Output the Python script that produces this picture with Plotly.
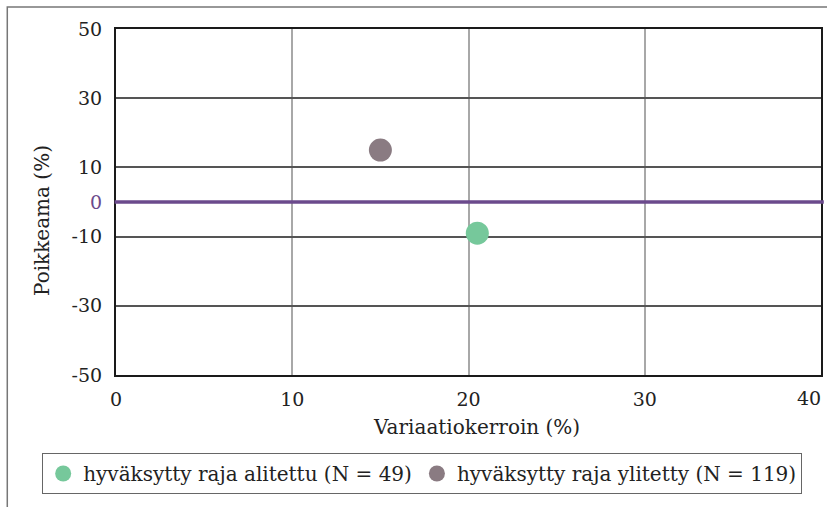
import plotly.graph_objects as go

# data
series_names = ["hyväksytty raja alitettu (N = 49)", "hyväksytty raja ylitetty (N = 119)"]
series_x = [[20.5], [15]]
series_y = [[-9], [15]]
series_colors = ["#76c89b", "#8a7b82"]

x_ticks = [0, 10, 20, 30, 40]
x_labels = ["0", "10", "20", "30", "40"]
y_ticks = [-50, -30, -10, 0, 10, 30, 50]
y_labels = ["-50", "-30", "-10", "<span style='color:#6b4a8c'>0</span>", "10", "30", "50"]

tick_font = dict(family="DejaVu Serif", size=19, color="#222")
font = dict(family="DejaVu Serif", size=20, color="#222")

fig = go.Figure()

for name, xs, ys, col in zip(series_names, series_x, series_y, series_colors):
    fig.add_trace(
        go.Scatter(
            x=xs, y=ys, mode="markers", name=name,
            marker=dict(size=23, color=col, line=dict(width=0)),
        )
    )

# zero line
fig.add_shape(type="line", xref="paper", yref="y", x0=-0.002, x1=1.004, y0=0, y1=0,
              line=dict(color="#6b4a8c", width=3.5), layer="above")

# outer frame
fig.add_shape(type="rect", xref="paper", yref="paper", x0=-0.1542, x1=1.2, y0=-0.5, y1=1.0636,
              line=dict(color="#777", width=1.5), layer="below")

# last x tick label sits flush against the right edge, so place it right-aligned
fig.add_annotation(text=x_labels[-1], x=x_ticks[-1], xref="x", yref="paper", y=0,
                   xanchor="right", yanchor="top", xshift=2, yshift=-10,
                   showarrow=False, font=tick_font)

# axis titles
fig.add_annotation(text="Variaatiokerroin (%)", xref="paper", yref="paper", x=0.512, y=-0.150,
                   xanchor="center", yanchor="middle", showarrow=False, font=font)
fig.add_annotation(text="Poikkeama (%)", xref="paper", yref="paper", x=-0.105, y=0.448,
                   xanchor="center", yanchor="middle", textangle=-90, showarrow=False, font=font)

fig.update_layout(
    width=827, height=507,
    margin=dict(l=116, r=4, t=29, b=132),
    paper_bgcolor="white", plot_bgcolor="white",
    font=font,
    showlegend=True,
    legend=dict(
        orientation="h", x=-0.1047, xanchor="left",
        y=-0.2254, yanchor="top",
        bordercolor="#666", borderwidth=1, font=font, itemsizing="trace",
        tracegroupgap=0,
    ),
)

fig.update_xaxes(
    range=[0, 40], tickvals=x_ticks, ticktext=x_labels[:-1] + [""], showgrid=True,
    gridcolor="#a8a8a8", gridwidth=1.5, showline=True, mirror=True, linecolor="#1a1a1a",
    linewidth=2, zeroline=False, ticks="", ticklabelstandoff=6, tickfont=tick_font,
    automargin=False,
)
fig.update_yaxes(
    range=[-50, 50], tickvals=y_ticks, ticktext=y_labels, showgrid=True, gridcolor="#555",
    gridwidth=1.5, showline=True, mirror=True, linecolor="#1a1a1a", linewidth=2,
    zeroline=False, ticks="", ticklabelstandoff=8, tickfont=tick_font,
)

fig.write_html(
    "out.html",
    config={"displayModeBar": False},
    post_script="document.body.style.margin='0';document.body.style.overflow='hidden';",
)
